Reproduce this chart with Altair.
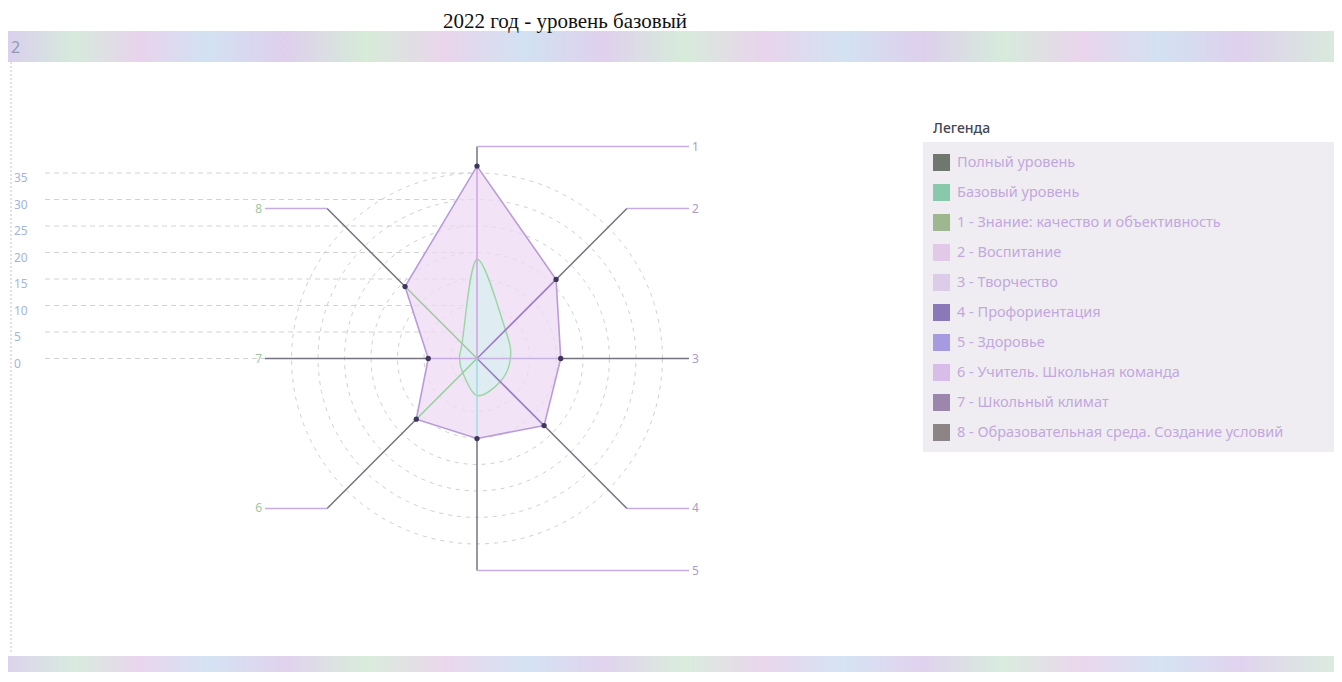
import altair as alt
import numpy as np
import pandas as pd

# ---------------- data ----------------
title_text = "2022 год  - уровень базовый"
axes = ["1", "2", "3", "4", "5", "6", "7", "8"]
full_level = [36.3, 21.1, 15.8, 17.9, 15.1, 16.2, 9.2, 19.2]   # Полный уровень
base_level = [18.7, 7.6, 6.3, 6.2, 7.0, 3.8, 3.3, 4.0]          # Базовый уровень
label_side = [1, 1, 1, 1, 1, -1, -1, -1]
ticks = [0, 5, 10, 15, 20, 25, 30, 35]
legend_names = [
    "Полный уровень",
    "Базовый уровень",
    "1 - Знание: качество и объективность",
    "2 - Воспитание",
    "3 - Творчество",
    "4 - Профориентация",
    "5 - Здоровье",
    "6 - Учитель. Школьная команда",
    "7 - Школьный климат",
    "8 - Образовательная среда. Создание условий",
]
legend_colors = ["#6f776f", "#88c9ac", "#9db88f", "#e3c9e8", "#dccbe9",
                 "#8a78b9", "#a69be0", "#d9bde9", "#9c86ab", "#8d8585"]
spoke_colors = ["#d2a6e2", "#a07cc8", "#c6b3df", "#9a80c2",
                "#a6dbe2", "#8fd49b", "#c9a9e2", "#a3c9a0"]

# ---------------- layout ----------------
W, H = 1326, 666
PX = 5.3                 # pixels per unit
CX, CY = 469.0, 350.5    # centre in plot pixels
R_LABEL = 40.0
xs = alt.Scale(domain=[-CX / PX, (W - CX) / PX], nice=False, zero=False)
ys = alt.Scale(domain=[-(H - CY) / PX, CY / PX], nice=False, zero=False)
X = lambda f: alt.X(f, scale=xs, axis=None)
Y = lambda f: alt.Y(f, scale=ys, axis=None)

idx = np.arange(len(axes))
ang = np.deg2rad(90 - 45 * idx)
cosA, sinA = np.round(np.cos(ang), 6), np.round(np.sin(ang), 6)
df = pd.DataFrame({
    "axis": axes, "idx": idx,
    "full": full_level, "base": base_level, "side": label_side,
    "fx": np.array(full_level) * cosA, "fy": np.array(full_level) * sinA,
    "bx": np.array(base_level) * cosA, "by": np.array(base_level) * sinA,
    "ex": R_LABEL * cosA, "ey": R_LABEL * sinA,
    "spoke": spoke_colors,
})
df["lx"] = df["side"] * R_LABEL
df["zero"] = 0.0

# grid rings
ring_rows = []
for r in ticks[1:]:
    for a in range(0, 361, 4):
        t = np.deg2rad(a)
        ring_rows.append({"r": r, "a": a, "x": r * np.cos(t), "y": r * np.sin(t)})
rings = pd.DataFrame(ring_rows)
tick_df = pd.DataFrame({"tick": ticks, "x0": [-81.5] * len(ticks), "x1": [0.0] * len(ticks)})

# ---------------- decor ----------------
band_stops = [
    ("#d3c8ea", 0.00), ("#cfe6d6", 0.05), ("#e4cbe9", 0.10), ("#cadcf0", 0.15),
    ("#d9c7ea", 0.21), ("#cfe8d2", 0.27), ("#e6cde8", 0.33), ("#c9dcef", 0.39),
    ("#dac8eb", 0.45), ("#d0e8d4", 0.51), ("#e5cce9", 0.57), ("#cbddf0", 0.63),
    ("#d8c7ea", 0.69), ("#cfe7d5", 0.75), ("#e6cde9", 0.81), ("#cadcef", 0.87),
    ("#d9c8eb", 0.93), ("#d2e6d6", 1.00),
]
grad = alt.LinearGradient(
    gradient="linear", x1=0, x2=1, y1=0, y2=0,
    stops=[alt.GradientStop(color=c, offset=o) for c, o in band_stops],
)
one = pd.DataFrame({"k": [0]})
top_band = alt.Chart(one).mark_rect(fill=grad, opacity=0.85).encode(
    x=alt.value(0), x2=alt.value(W), y=alt.value(23), y2=alt.value(54))
bot_band = alt.Chart(one).mark_rect(fill=grad, opacity=0.8).encode(
    x=alt.value(0), x2=alt.value(W), y=alt.value(648), y2=alt.value(664))
left_border = alt.Chart(one).mark_rule(color="#c4c4c8", strokeDash=[2, 2]).encode(
    x=alt.value(3), y=alt.value(54), y2=alt.value(645))
corner_txt = alt.Chart(pd.DataFrame({"t": ["2"]})).mark_text(
    fontSize=16, color="#8d9bb8", font="Noto Sans", align="left", baseline="middle"
).encode(text="t:N", x=alt.value(3), y=alt.value(40))
legend_bg = alt.Chart(one).mark_rect(fill="#efedf2").encode(
    x=alt.value(915), x2=alt.value(W), y=alt.value(134), y2=alt.value(444))
title = alt.Chart(pd.DataFrame({"t": [title_text]})).mark_text(
    font="Liberation Serif", fontSize=21, color="#111111", align="center",
    baseline="alphabetic").encode(text="t:N", x=alt.value(557), y=alt.value(19.5))

# ---------------- radar ----------------
grid_h = alt.Chart(tick_df).mark_rule(color="#d2d2d2", strokeDash=[5, 4]).encode(
    x=X("x0:Q"), x2="x1:Q", y=Y("tick:Q"))
grid_rings = alt.Chart(rings).mark_line(color="#d0d0d0", strokeDash=[4, 5], strokeWidth=1).encode(
    x=X("x:Q"), y=Y("y:Q"), detail="r:N", order="a:Q")
tick_labels = alt.Chart(tick_df).mark_text(
    align="left", baseline="middle", dy=5, fontSize=12, color="#a6b4d6", font="Noto Sans"
).encode(x=alt.value(6), y=Y("tick:Q"), text="tick:Q")

full_poly = alt.Chart(df).mark_line(
    interpolate="linear-closed", fill="#efd9f4", fillOpacity=0.75,
    stroke="#b89bd8", strokeWidth=1.6).encode(x=X("fx:Q"), y=Y("fy:Q"), order="idx:Q")
base_poly = alt.Chart(df).mark_line(
    interpolate="cardinal-closed", fill="#d6eff0", fillOpacity=0.7,
    stroke="#9ad6a2", strokeWidth=1.4).encode(x=X("bx:Q"), y=Y("by:Q"), order="idx:Q")

spokes = alt.Chart(df).mark_rule(strokeWidth=1.6).encode(
    x=X("zero:Q"), y=Y("zero:Q"), x2="fx:Q", y2="fy:Q",
    stroke=alt.Stroke("spoke:N", scale=None, legend=None))
leaders = alt.Chart(df).mark_rule(strokeWidth=1.5, color="#76737e").encode(
    x=X("fx:Q"), y=Y("fy:Q"), x2="ex:Q", y2="ey:Q")
horiz = alt.Chart(df).mark_rule(strokeWidth=1.5, color="#c6abe2").encode(
    x=X("ex:Q"), y=Y("ey:Q"), x2="lx:Q")
lab_r = alt.Chart(df).transform_filter("datum.side > 0").mark_text(
    align="left", dx=3, fontSize=12, color="#a99cca", font="Noto Sans").encode(
    x=X("lx:Q"), y=Y("ey:Q"), text="axis:N")
lab_l = alt.Chart(df).transform_filter("datum.side < 0").mark_text(
    align="right", dx=-3, fontSize=12, color="#9fc8a2", font="Noto Sans").encode(
    x=X("lx:Q"), y=Y("ey:Q"), text="axis:N")
pts = alt.Chart(df).mark_circle(size=28, color="#40365c", opacity=1).encode(
    x=X("fx:Q"), y=Y("fy:Q"))

# ---------------- legend ----------------
leg_df = pd.DataFrame({"name": legend_names})
legend_layer = alt.Chart(leg_df).mark_square(opacity=0, size=1).encode(
    x=alt.datum(0, scale=xs), y=alt.datum(0, scale=ys),
    color=alt.Color("name:N", scale=alt.Scale(domain=legend_names, range=legend_colors),
                    legend=alt.Legend(
                        title="Легенда", orient="none", legendX=925, legendY=114,
                        titleFontSize=14, titleColor="#464652", titleFont="Noto Sans",
                        titleFontWeight=500, titlePadding=18,
                        symbolType="square", symbolSize=289, symbolOpacity=1,
                        symbolStrokeWidth=0, labelFontSize=14.5, labelColor="#c2a8dc",
                        labelFont="Noto Sans", labelLimit=600, labelOffset=7,
                        rowPadding=13)))

chart = alt.layer(
    top_band, bot_band, left_border, corner_txt, legend_bg, title,
    grid_h, grid_rings, tick_labels,
    full_poly, base_poly, spokes, leaders, horiz, lab_r, lab_l, pts,
    legend_layer,
).properties(
    width=W, height=H, autosize=alt.AutoSizeParams(type="none"), padding=0,
).configure_view(stroke=None)

chart.save("out.html", embed_options={"renderer": "svg", "actions": False})
